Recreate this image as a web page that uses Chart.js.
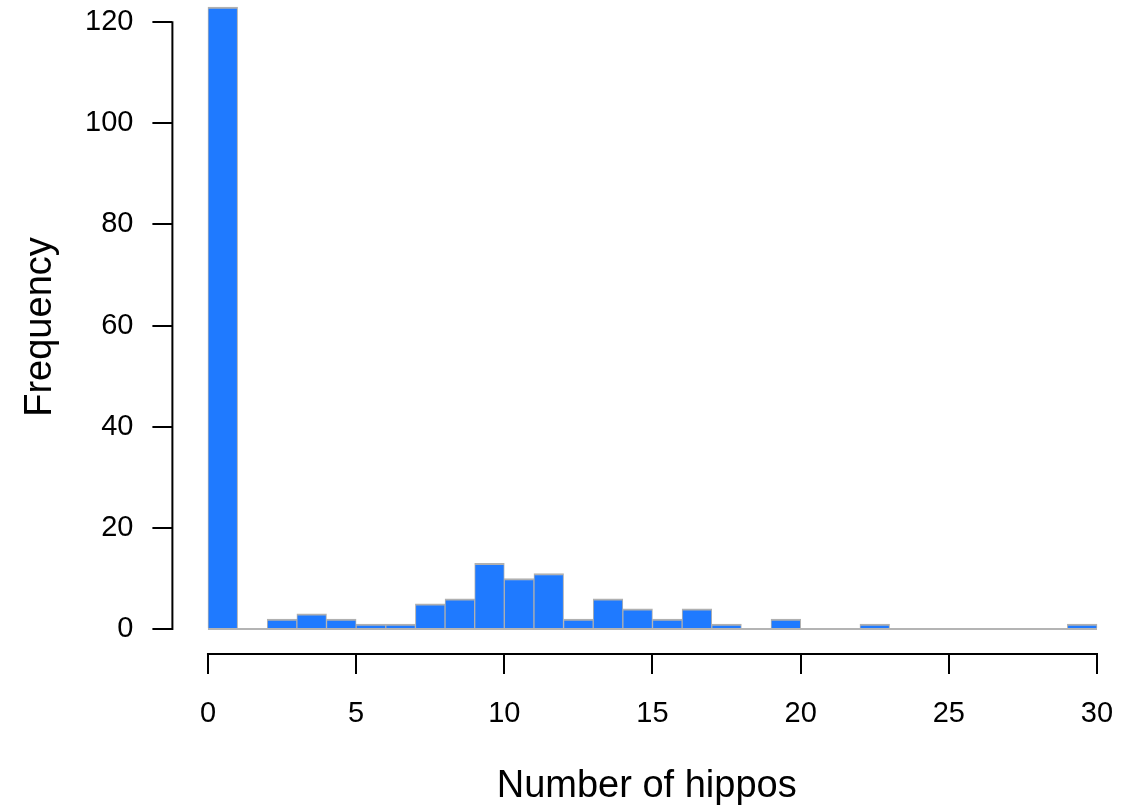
<!DOCTYPE html>
<html>
<head>
<meta charset="utf-8">
<script src="https://cdn.jsdelivr.net/npm/chart.js@4/dist/chart.umd.min.js"></script>
<style>
html,body{margin:0;padding:0;background:#fff;}
#wrap{width:1121px;height:812px;position:relative;}
</style>
</head>
<body>
<div id="wrap"><canvas id="c" width="1121" height="812"></canvas></div>
<script>
// Histogram bins (left edges) and counts
const binStarts = [0,1,2,3,4,5,6,7,8,9,10,11,12,13,14,15,16,17,18,19,20,21,22,23,24,25,26,27,28,29];
const counts    = [123,0,2,3,2,1,1,5,6,13,10,11,2,6,4,2,4,1,0,2,0,0,1,0,0,0,0,0,0,1];
const xTicks = [0,5,10,15,20,25,30];
const yTicks = [0,20,40,60,80,100,120];
const xTitle = 'Number of hippos';
const yTitle = 'Frequency';

const FONT = '"Liberation Sans", Arial, Helvetica, sans-serif';
const barData = binStarts.map((s,i)=>({x:s+0.5, y:counts[i]}));
const baseData = [{x:binStarts[0], y:0},{x:binStarts[binStarts.length-1]+1, y:0}];

const rAxes = {
  id:'rAxes',
  afterDraw(chart){
    const ctx = chart.ctx, xs = chart.scales.x, ys = chart.scales.y;
    ctx.save();
    ctx.strokeStyle = '#000'; ctx.lineWidth = 2; ctx.lineCap='square';
    ctx.beginPath();
    const xl = chart.chartArea.left;
    ctx.moveTo(xl, ys.getPixelForValue(yTicks[0]));
    ctx.lineTo(xl, ys.getPixelForValue(yTicks[yTicks.length-1]));
    const yb = chart.chartArea.bottom;
    ctx.moveTo(xs.getPixelForValue(xTicks[0]), yb);
    ctx.lineTo(xs.getPixelForValue(xTicks[xTicks.length-1]), yb);
    ctx.stroke();
    ctx.restore();
  }
};

function noPad(s){ s.paddingTop=0; s.paddingBottom=0; s.paddingLeft=0; s.paddingRight=0; }

new Chart(document.getElementById('c'), {
  type:'bar',
  data:{
    datasets:[
      {type:'line', data:baseData, borderColor:'#b4b4b4', borderWidth:2, pointRadius:0, order:2},
      {type:'bar', data:barData, backgroundColor:'#1f7aff', borderColor:'#b0b0b0',
       borderWidth:{top:2,left:1,right:1,bottom:0}, barPercentage:1, categoryPercentage:1, order:1, borderSkipped:false}
    ]
  },
  plugins:[rAxes],
  options:{
    responsive:false, animation:false,
    layout:{padding:0},
    plugins:{legend:{display:false}, tooltip:{enabled:false}},
    scales:{
      x:{type:'linear', min:-1.2, max:30.81, offset:false,
        afterBuildTicks(s){ s.ticks = xTicks.map(v=>({value:v})); },
        afterFit(s){ s.height = 158; noPad(s); },
        grid:{display:true, offset:false, drawOnChartArea:false, drawTicks:true, tickLength:20, color:'#000', lineWidth:2},
        border:{display:false},
        ticks:{color:'#000', padding:23, maxRotation:0, autoSkip:false, font:{family:FONT, size:29, lineHeight:1.2}},
        title:{display:true, text:xTitle, color:'#000', padding:{top:0,bottom:3}, font:{family:FONT, size:38, lineHeight:1.2}}
      },
      y:{type:'linear', min:-4.92, max:124.38,
        afterBuildTicks(s){ s.ticks = yTicks.map(v=>({value:v})); },
        afterFit(s){ s.width = 172.4; noPad(s); },
        grid:{display:true, offset:false, drawOnChartArea:false, drawTicks:true, tickLength:20, color:'#000', lineWidth:2},
        border:{display:false},
        ticks:{color:'#000', padding:19, font:{family:FONT, size:29, lineHeight:1.2}},
        title:{display:true, text:yTitle, color:'#000', padding:{top:18,bottom:0}, font:{family:FONT, size:38, lineHeight:1.2}}
      }
    }
  }
});
</script>
</body>
</html>
